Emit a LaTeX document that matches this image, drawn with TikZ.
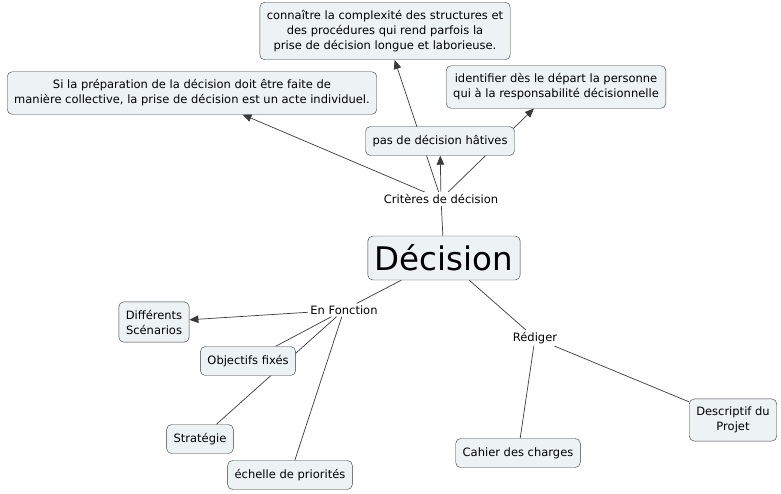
\documentclass[tikz,border=0pt]{standalone}
\usepackage{fontspec}
\setmainfont{DejaVu Sans}
\usetikzlibrary{arrows.meta,backgrounds}
\definecolor{MapFill}{HTML}{EDF2F4}
\definecolor{MapLine}{HTML}{3A3A3A}

\begin{document}
\begin{tikzpicture}[
        x=1pt,y=-1pt,
        concept/.style={draw=MapLine,rounded corners=5pt,fill=MapFill,align=center,
          font=\fontsize{11.5}{15}\selectfont,inner xsep=7pt,inner ysep=8pt,minimum height=29pt},
        link/.style={fill=white,inner sep=2pt,font=\fontsize{11.5}{13}\selectfont},
        arr/.style={-{Triangle[length=9pt,width=7.5pt]},MapLine,line width=0.7pt},
        ln/.style={MapLine,line width=0.7pt}
      ]
        \useasboundingbox (0,0) rectangle (781,493);
        \node[concept,font=\fontsize{32.5}{36}\selectfont,minimum width=152pt,minimum height=44pt,inner ysep=2pt] (dec) at (444,258) {Décision};
        \node[link] (crit) at (441,199) {Critères de décision};
        \node[concept] (pas) at (440,141) {pas de décision hâtives};
        \node[concept] (conn) at (385,31) {connaître la complexité des structures et\\des procédures qui rend parfois la\\prise de décision longue et laborieuse.};
        \node[concept] (prep) at (192,93) {Si la préparation de la décision doit être faite de\\manière collective, la prise de décision est un acte individuel.};
        \node[concept] (ident) at (556,87) {identifier dès le départ la personne\\qui à la responsabilité décisionnelle};
        \node[link] (fonc) at (344,310) {En Fonction};
        \node[concept] (scen) at (154,322) {Différents\\Scénarios};
        \node[concept] (obj) at (248,361) {Objectifs fixés};
        \node[concept] (strat) at (200,439) {Stratégie};
        \node[concept] (echelle) at (290,475) {échelle de priorités};
        \node[link] (red) at (535,338) {Rédiger};
        \node[concept] (desc) at (733,420) {Descriptif du\\Projet};
        \node[concept] (cahier) at (518,453) {Cahier des charges};
        % liens sous les boites
        \begin{scope}[on background layer]
          \draw[ln] (dec)--(crit);
          \draw[arr] (crit)--(prep); \draw[arr] (crit)--(conn);
          \draw[arr] (crit)--(pas); \draw[arr] (crit)--(ident);
          \draw[ln] (dec)--(fonc); \draw[arr] (fonc)--(scen);
          \draw[ln] (fonc)--(obj); \draw[ln] (fonc)--(strat); \draw[ln] (fonc)--(echelle);
          \draw[ln] (dec)--(red); \draw[ln] (red)--(cahier); \draw[ln] (red)--(desc);
        \end{scope}
      \end{tikzpicture}
\end{document}
